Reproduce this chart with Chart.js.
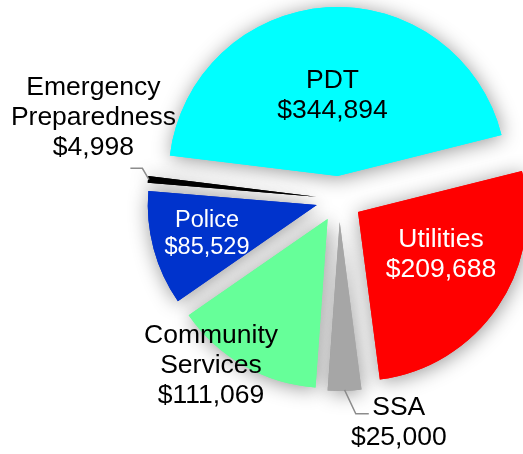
<!DOCTYPE html>
<html><head><meta charset="utf-8">
<script src="https://cdn.jsdelivr.net/npm/chart.js@4.4.0/dist/chart.umd.min.js"></script>
<style>html,body{margin:0;padding:0;background:#fff;overflow:hidden}</style>
</head><body>
<canvas id="c" width="523" height="454"></canvas>
<script>
// ---- data ----
const categories = ['PDT', 'Utilities', 'SSA', 'Community Services', 'Police', 'Emergency Preparedness'];
const values = [344894, 209688, 25000, 111069, 85529, 4998];

// ---- styles ----
const sliceColors = ['#00FFFF', '#FF0000', '#A6A6A6', '#66FF99', '#0033CC', '#000000'];
const SHIFT = 23; // explosion distance in px
const labelStyle = [
  {delta: 0,     dist: 0.491, color: '#000', size: 26.5},
  {delta: -8.4,  dist: 0.546, color: '#fff', size: 26.5},
  {delta: -14.9, dist: 1.227, color: '#000', size: 26.5, leader: {dx: -30, dy: -7, elbow: -13}},
  {delta: 9.2,   dist: 1.099, color: '#000', size: 26.5},
  {delta: 1.2,   dist: 0.669, color: '#fff', size: 23.5},
  {delta: 14.2,  dist: 1.403, color: '#000', size: 26.5, leader: {dx: 37, dy: 53, elbow: 12}}
];

const explode = {
  id: 'explode',
  afterDatasetsUpdate(chart) {
    chart.getDatasetMeta(0).data.forEach(arc => {
      const mid = (arc.startAngle + arc.endAngle) / 2;
      arc.x += Math.cos(mid) * SHIFT;
      arc.y += Math.sin(mid) * SHIFT;
    });
  }
};

const shadowPass = {
  id: 'shadowPass',
  beforeDatasetsDraw(chart) {
    const ctx = chart.ctx;
    ctx.save();
    ctx.shadowColor = 'rgba(0,0,0,0.42)';
    ctx.shadowBlur = 20;
    ctx.shadowOffsetX = 1;
    ctx.shadowOffsetY = 2;
    chart.getDatasetMeta(0).data.forEach(a => a.draw(ctx));
    ctx.restore();
  }
};

const fmt = v => '$' + v.toLocaleString('en-US');

const sliceLabels = {
  id: 'sliceLabels',
  afterDatasetsDraw(chart) {
    const ctx = chart.ctx;
    const arcs = chart.getDatasetMeta(0).data;
    arcs.forEach((arc, i) => {
      const st = labelStyle[i];
      const mid = (arc.startAngle + arc.endAngle) / 2;
      const R = arc.outerRadius;
      const a = mid + st.delta * Math.PI / 180;
      const cx = arc.x + Math.cos(a) * R * st.dist;
      const cy = arc.y + Math.sin(a) * R * st.dist;
      const lines = categories[i].split(' ').concat([fmt(values[i])]);
      const lh = st.size * 1.12;
      const cap = st.size * 0.716;
      ctx.save();
      if (st.leader) {
        const sx = arc.x + Math.cos(mid) * (R - 1);
        const sy = arc.y + Math.sin(mid) * (R - 1);
        const ex = cx + st.leader.dx, ey = cy + st.leader.dy;
        ctx.strokeStyle = '#8c8c8c';
        ctx.lineWidth = 1.5;
        ctx.beginPath();
        ctx.moveTo(sx, sy);
        ctx.lineTo(ex + st.leader.elbow, ey);
        ctx.lineTo(ex, ey);
        ctx.stroke();
      }
      ctx.fillStyle = st.color;
      ctx.font = st.size + 'px "Liberation Sans", Arial, sans-serif';
      ctx.textAlign = 'center';
      ctx.textBaseline = 'alphabetic';
      const y0 = cy - (lines.length - 1) * lh / 2 + cap / 2;
      lines.forEach((t, k) => ctx.fillText(t, cx, y0 + k * lh));
      ctx.restore();
    });
  }
};

new Chart(document.getElementById('c'), {
  type: 'pie',
  data: {
    labels: categories,
    datasets: [{
      data: values,
      backgroundColor: sliceColors,
      borderWidth: 0,
      rotation: -83,
      radius: 169,
      clip: false
    }]
  },
  options: {
    responsive: false,
    animation: false,
    events: [],
    rotation: -83,
    radius: 169,
    layout: {padding: {left: 155, right: 0, top: 0, bottom: 56}},
    plugins: {legend: {display: false}, tooltip: {enabled: false}}
  },
  plugins: [explode, shadowPass, sliceLabels]
});
</script>
</body></html>
